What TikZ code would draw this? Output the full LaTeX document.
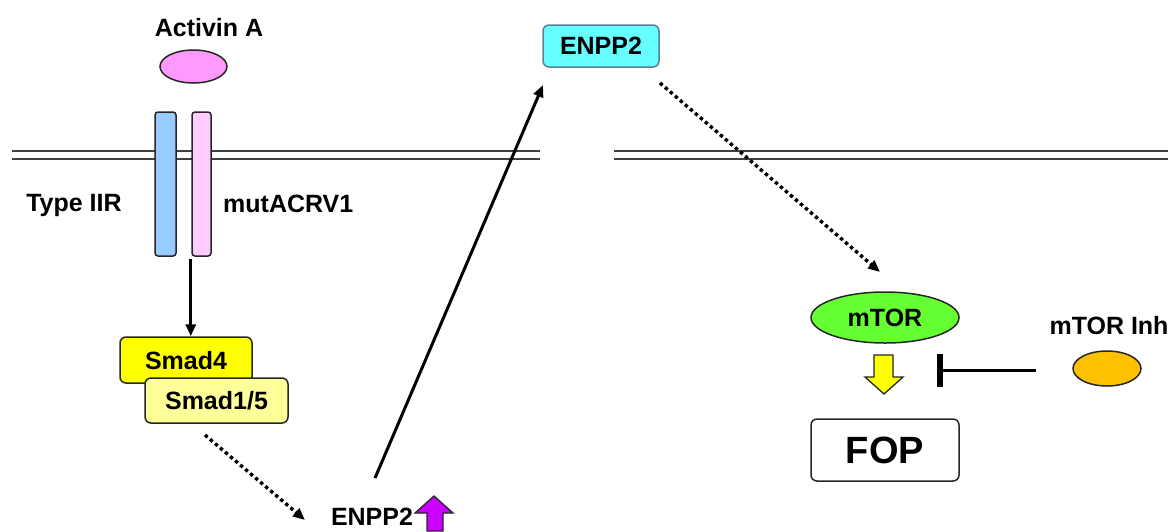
\documentclass[tikz,border=0pt]{standalone}
\usepackage{fontspec}
\setmainfont{Liberation Sans}
\usetikzlibrary{arrows.meta,shapes.geometric,calc}

\definecolor{actpink}{HTML}{FF99FF}
\definecolor{barblue}{HTML}{99CCFF}
\definecolor{barpink}{HTML}{FFCCFF}
\definecolor{smadyel}{HTML}{FFFF00}
\definecolor{smadpale}{HTML}{FFFF99}
\definecolor{enpcyan}{HTML}{66FFFF}
\definecolor{enpedge}{HTML}{5B7F9B}
\definecolor{mtorgreen}{HTML}{66FF33}
\definecolor{inhorange}{HTML}{FFC000}
\definecolor{uppurple}{HTML}{CC00FF}

\begin{document}
\begin{tikzpicture}[x=1pt,y=-1pt,
  lbl/.style={font=\bfseries\fontsize{25}{30}\selectfont, inner sep=0pt},
  rbox/.style={draw=black!85, line width=1.5pt, rounded corners=6pt,
    font=\bfseries\fontsize{25}{30}\selectfont, inner sep=0pt},
  oval/.style={ellipse, draw=black!85, line width=1.5pt, inner sep=0pt},
  membrane/.style={draw=black!75, line width=1.2pt},
  sarrow/.style={line width=3pt, -{Triangle[length=12pt,width=10pt]}},
  darrow/.style={line width=3.4pt, dash pattern=on 3.4pt off 3.2pt,
    -{Triangle[length=12pt,width=10pt]}},
  blockarrow/.style={draw=black!85, line width=1.3pt, line join=miter}
]
\useasboundingbox (0,0) rectangle (1174,531);

% cell membrane, left and right segments
\draw[membrane] (12,151) -- (540,151) (12,159) -- (540,159);
\draw[membrane] (614,151) -- (1168,151) (614,159) -- (1168,159);

% ligand
\node[lbl] (actlbl) at (209,28) {Activin A};
\node[oval, fill=actpink, minimum width=67pt, minimum height=33pt] (activin) at (193.5,66.5) {};

% receptors
\node[draw=black!85, line width=1.5pt, rounded corners=3pt, fill=barblue,
  minimum width=21pt, minimum height=144pt, inner sep=0pt] (typeii) at (165.5,184) {};
\node[draw=black!85, line width=1.5pt, rounded corners=3pt, fill=barpink,
  minimum width=19pt, minimum height=144pt, inner sep=0pt] (acrv) at (201.5,184) {};
\node[lbl] (typelbl) at (74,205) {Type IIR};
\node[lbl, anchor=west] (mutlbl) at (223,204) {mutACRV1};

% Smad complex
\node[rbox, fill=smadyel, minimum width=132pt, minimum height=46pt] (smad4) at (186,360) {};
\node[lbl] at (186,361) {Smad4};
\node[rbox, fill=smadpale, minimum width=143pt, minimum height=45pt] (smad15) at (216.5,400.5) {Smad1/5};

\coordinate (rcvout) at ($(acrv.south west)+(-0.5,2)$);
\draw[sarrow] (rcvout) -- (rcvout |- smad4.north);

% ENPP2 expression
\node[lbl] (enpgene) at (372,517) {ENPP2};
\draw[blockarrow, fill=uppurple] (434,496) -- (453,513) -- (443,513) -- (443,531)
  -- (427,531) -- (427,513) -- (415,513) -- cycle;

\coordinate (smadout) at (205,435);
\coordinate (geneIn) at (305,520);
\draw[darrow] (smadout) -- (geneIn);

% secreted ENPP2
\node[rbox, draw=enpedge, fill=enpcyan, minimum width=116pt, minimum height=42pt] (enpprot) at (601,46) {ENPP2};
\coordinate (geneOut) at (375,478);
\coordinate (protIn) at (543,85);
\draw[sarrow] (geneOut) -- (protIn);

% mTOR pathway
\node[oval, fill=mtorgreen, minimum width=148pt, minimum height=51pt,
  font=\bfseries\fontsize{25}{30}\selectfont] (mtor) at (885,317.5) {mTOR};
\coordinate (protOut) at (660,83);
\coordinate (mtorIn) at (880,272);
\draw[darrow] (protOut) -- (mtorIn);

\draw[blockarrow, fill=smadyel] (874,355) -- (893,355) -- (893,377) -- (903,377)
  -- (884,394) -- (865,377) -- (874,377) -- cycle;

\node[rbox, fill=white, minimum width=148pt, minimum height=62pt,
  font=\bfseries\fontsize{38}{44}\selectfont] (fop) at (885,450) {FOP};

% inhibitor
\node[lbl] (inhlbl) at (1109,326) {mTOR Inh};
\node[oval, fill=inhorange, minimum width=68pt, minimum height=35pt] (inh) at (1107,368.5) {};
\coordinate (inhStart) at (1036,370);
\coordinate (inhEnd) at (943,370);
\draw[line width=3pt] (inhStart) -- (inhEnd);
\fill (inhEnd) ++(-6,-16.5) rectangle ++(6,33);
\end{tikzpicture}
\end{document}
